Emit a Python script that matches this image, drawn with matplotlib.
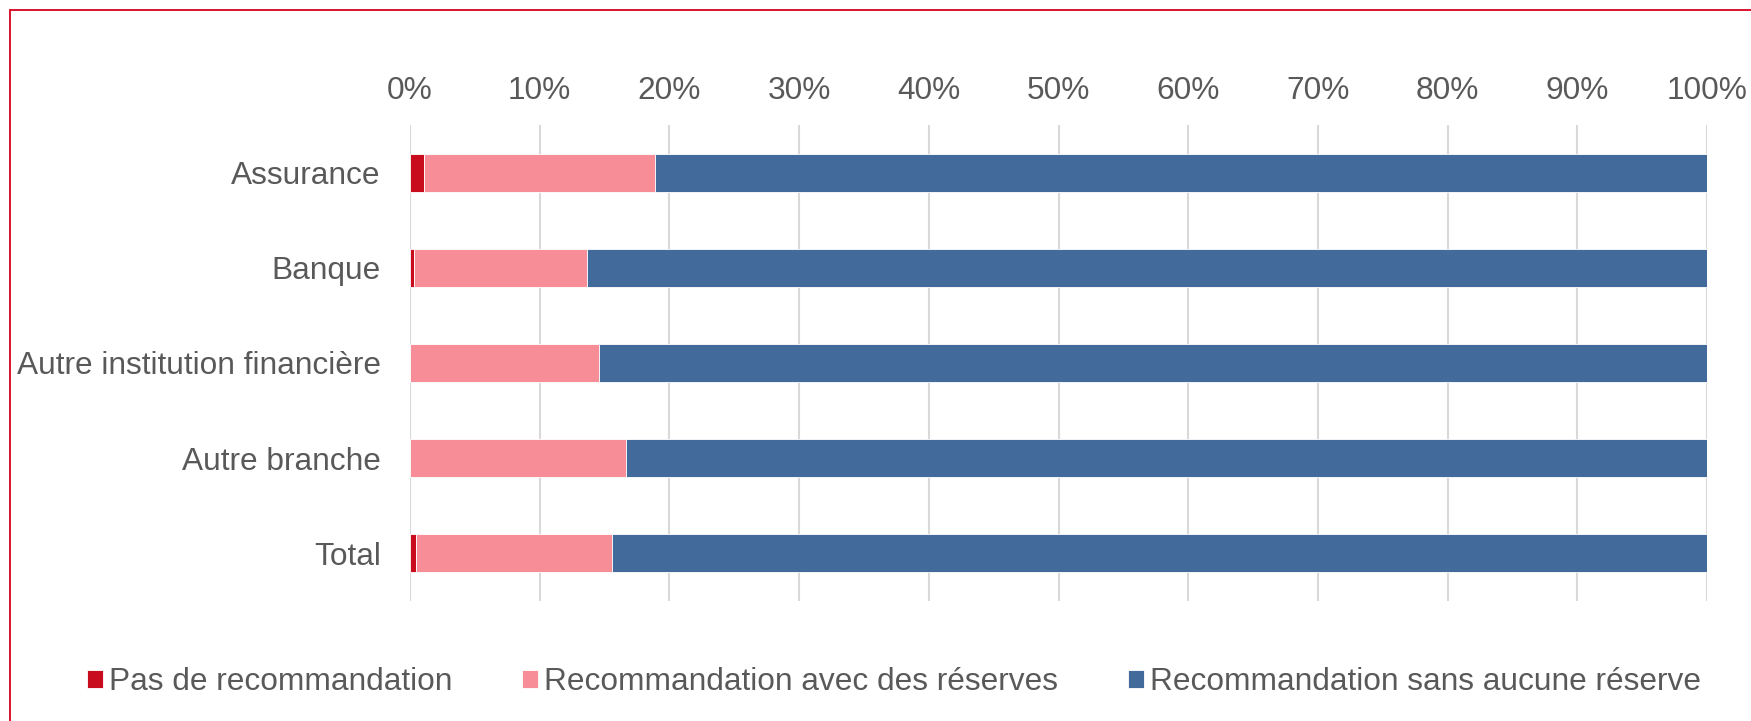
import matplotlib
matplotlib.use("Agg")
import matplotlib.pyplot as plt
from matplotlib.patches import Rectangle
import numpy as np

categories = ["Assurance", "Banque", "Autre institution financière", "Autre branche", "Total"]
pas_de_reco = [1.1, 0.3, 0.0, 0.0, 0.45]
avec_reserves = [17.8, 13.35, 14.55, 16.65, 15.1]
sans_reserve = [100 - a - b for a, b in zip(pas_de_reco, avec_reserves)]
series_names = ["Pas de recommandation", "Recommandation avec des réserves",
                "Recommandation sans aucune réserve"]
xticks = [0, 10, 20, 30, 40, 50, 60, 70, 80, 90, 100]
xtick_labels = [f"{v}%" for v in xticks]

colors = ["#C80C1E", "#F78E97", "#426A9B"]
text_color = "#595959"
fs = 22.8

plt.rcParams['font.family'] = ['Liberation Sans', 'DejaVu Sans']

fig = plt.figure(figsize=(17.51, 7.21), dpi=100)
ax = fig.add_axes([410/1751, 1-601/721, (1707-410)/1751, (601-125)/721])

y = np.arange(len(categories))
left = np.zeros(len(categories))
for vals, col, name in zip([pas_de_reco, avec_reserves, sans_reserve], colors, series_names):
    ax.barh(y, vals, left=left, height=0.4, color=col, label=name,
            edgecolor="white", linewidth=0.6, zorder=3)
    left = left + np.array(vals)

ax.set_xlim(0, 100)
ax.set_ylim(len(categories) - 0.5, -0.5)
ax.set_yticks(y)
ax.set_yticklabels(categories, fontsize=fs, color=text_color)
ax.set_xticks(xticks)
ax.set_xticklabels(xtick_labels, fontsize=fs, color=text_color)
ax.xaxis.tick_top()
ax.tick_params(axis='x', length=0, pad=13.5)
ax.tick_params(axis='y', length=0, pad=21)
ax.grid(axis='x', color="#D9D9D9", linewidth=1.5, zorder=0)
for s in ax.spines.values():
    s.set_visible(False)

handles, labels = ax.get_legend_handles_labels()
leg = fig.legend(handles, labels, loc='center', bbox_to_anchor=(894/1751, 1-682/721),
                 ncol=3, frameon=False, fontsize=fs, handlelength=0.5, handleheight=0.5,
                 handletextpad=0.2, columnspacing=2.2)
for t in leg.get_texts():
    t.set_color(text_color)

fig.patches.append(Rectangle((10/1751, -0.2), 1.2, 1.2 - 10/721, transform=fig.transFigure,
                             fill=False, edgecolor="#D7001E", linewidth=1.3))

fig.savefig("out.png", dpi=100)
